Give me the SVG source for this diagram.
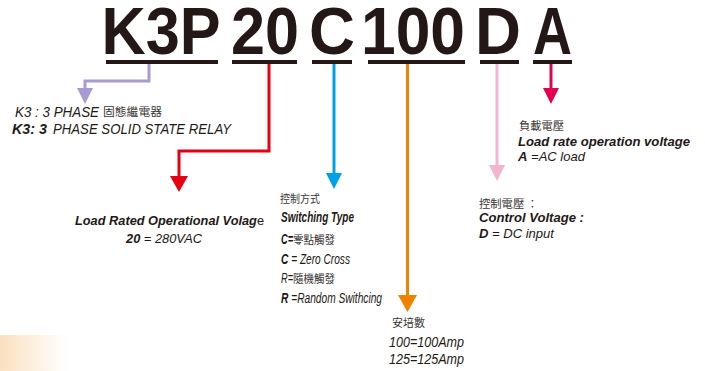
<svg xmlns="http://www.w3.org/2000/svg" width="705" height="371" viewBox="0 0 705 371">
<style>
.hd{font-family:"Liberation Sans",Arial,sans-serif;font-weight:bold;font-size:67px;fill:#231815}
.ul{fill:#231815}
.t{font-family:"Liberation Sans",Arial,sans-serif;font-size:13px;font-style:italic;fill:#231815}
.c{font-size:14.5px}
.b{font-weight:bold}
.cj{font-family:"Noto Sans CJK TC","Noto Sans CJK SC",sans-serif;font-size:11px;font-style:normal;font-weight:normal;fill:#3a3433}
.ln{fill:none;stroke-width:3}
</style>
<defs>
<linearGradient id="fade" x1="0" y1="0" x2="1" y2="0">
<stop offset="0" stop-color="#fbe0c0"/>
<stop offset="1" stop-color="#fbe0c0" stop-opacity="0"/>
</linearGradient>
<marker id="mPurple" markerUnits="userSpaceOnUse" markerWidth="20" markerHeight="20" viewBox="0 -10 20 20" refX="1" refY="0" orient="auto"><path d="M0,-8 L16,0 L0,8 z" fill="#a99bd1"/></marker>
<marker id="mRed" markerUnits="userSpaceOnUse" markerWidth="20" markerHeight="20" viewBox="0 -10 20 20" refX="1" refY="0" orient="auto"><path d="M0,-9 L16,0 L0,9 z" fill="#e60012"/></marker>
<marker id="mBlue" markerUnits="userSpaceOnUse" markerWidth="20" markerHeight="20" viewBox="0 -10 20 20" refX="1" refY="0" orient="auto"><path d="M0,-8 L16,0 L0,8 z" fill="#00a0e9"/></marker>
<marker id="mOrange" markerUnits="userSpaceOnUse" markerWidth="20" markerHeight="20" viewBox="0 -10 20 20" refX="1" refY="0" orient="auto"><path d="M0,-9.5 L17,0 L0,9.5 z" fill="#f08200"/></marker>
<marker id="mPink" markerUnits="userSpaceOnUse" markerWidth="20" markerHeight="20" viewBox="0 -10 20 20" refX="1" refY="0" orient="auto"><path d="M0,-8 L16,0 L0,8 z" fill="#f4b4d0"/></marker>
<marker id="mCrimson" markerUnits="userSpaceOnUse" markerWidth="20" markerHeight="20" viewBox="0 -10 20 20" refX="1" refY="0" orient="auto"><path d="M0,-8 L16,0 L0,8 z" fill="#e4004f"/></marker>
</defs>
<rect width="705" height="371" fill="#ffffff"/>
<rect x="0" y="335" width="68" height="36" fill="url(#fade)"/>

<g id="code">
<text class="hd" x="101.5" y="54" textLength="119" lengthAdjust="spacingAndGlyphs">K3P</text>
<text class="hd" x="231" y="54" textLength="68" lengthAdjust="spacingAndGlyphs">20</text>
<text class="hd" x="309" y="54" textLength="46" lengthAdjust="spacingAndGlyphs">C</text>
<text class="hd" x="361" y="54" textLength="104" lengthAdjust="spacingAndGlyphs">100</text>
<text class="hd" x="475" y="54" textLength="46" lengthAdjust="spacingAndGlyphs">D</text>
<text class="hd" x="533" y="54" textLength="39" lengthAdjust="spacingAndGlyphs">A</text>
<rect class="ul" x="106" y="60" width="112" height="4"/>
<rect class="ul" x="232" y="60" width="65" height="4"/>
<rect class="ul" x="312" y="60" width="40" height="4"/>
<rect class="ul" x="368" y="60" width="97" height="4"/>
<rect class="ul" x="480" y="60" width="39" height="4"/>
<rect class="ul" x="533" y="60" width="39" height="4"/>
</g>

<g id="connectors">
<path class="ln" d="M149,64 V81 H85 V89" stroke="#a99bd1" marker-end="url(#mPurple)"/>
<path class="ln" d="M269,64 V151 H179 V177" stroke="#e60012" marker-end="url(#mRed)"/>
<path class="ln" d="M334,64 V174" stroke="#00a0e9" stroke-width="2.2" marker-end="url(#mBlue)"/>
<path class="ln" d="M407.5,64 V296" stroke="#f08200" marker-end="url(#mOrange)"/>
<path class="ln" d="M497,64 V166" stroke="#f4b4d0" marker-end="url(#mPink)"/>
<path class="ln" d="M551,64 V89" stroke="#e4004f" stroke-width="2.2" marker-end="url(#mCrimson)"/>
</g>

<g id="node-k3p">
<text class="t c" x="15" y="117" textLength="84" lengthAdjust="spacingAndGlyphs">K3 : 3 PHASE</text>
<text class="cj" x="103" y="116" textLength="59" lengthAdjust="spacingAndGlyphs">固態繼電器</text>
<text class="t c b" x="12" y="134" textLength="35" lengthAdjust="spacingAndGlyphs">K3: 3</text>
<text class="t c" x="53" y="134" textLength="178" lengthAdjust="spacingAndGlyphs">PHASE SOLID STATE RELAY</text>
</g>

<g id="node-voltage">
<text class="t b" x="75" y="225" textLength="189" lengthAdjust="spacingAndGlyphs">Load Rated Operational Volag<tspan font-weight="normal" font-style="normal">e</tspan></text>
<text class="t" x="126" y="243" textLength="76" lengthAdjust="spacingAndGlyphs"><tspan class="b">20</tspan> = 280VAC</text>
</g>

<g id="node-switching">
<text class="cj" x="280" y="203" textLength="40" lengthAdjust="spacingAndGlyphs">控制方式</text>
<text class="t c b" x="281" y="222" textLength="73" lengthAdjust="spacingAndGlyphs">Switching Type</text>
<text class="t c" x="281" y="244"><tspan class="b" textLength="12" lengthAdjust="spacingAndGlyphs">C=</tspan><tspan class="cj" x="293" textLength="42" lengthAdjust="spacingAndGlyphs">零點觸發</tspan></text>
<text class="t c" x="281" y="264" textLength="69" lengthAdjust="spacingAndGlyphs"><tspan class="b">C</tspan> = Zero Cross</text>
<text class="t c" x="281" y="283"><tspan textLength="12" lengthAdjust="spacingAndGlyphs">R=</tspan><tspan class="cj" x="293" textLength="42" lengthAdjust="spacingAndGlyphs">隨機觸發</tspan></text>
<text class="t c" x="281" y="303" textLength="101" lengthAdjust="spacingAndGlyphs"><tspan class="b">R</tspan> =Random Swithcing</text>
</g>

<g id="node-current">
<text class="cj" x="392" y="327" textLength="33" lengthAdjust="spacingAndGlyphs">安培數</text>
<text class="t c" x="389" y="347" textLength="75" lengthAdjust="spacingAndGlyphs">100=100Amp</text>
<text class="t c" x="389" y="364" textLength="75" lengthAdjust="spacingAndGlyphs">125=125Amp</text>
</g>

<g id="node-control">
<text class="cj" x="479" y="208" textLength="59" lengthAdjust="spacingAndGlyphs">控制電壓 ：</text>
<text class="t b" x="479" y="222" textLength="105" lengthAdjust="spacingAndGlyphs">Control Voltage :</text>
<text class="t" x="479" y="238" textLength="75" lengthAdjust="spacingAndGlyphs"><tspan class="b">D</tspan> = DC input</text>
</g>

<g id="node-load">
<text class="cj" x="519" y="130" textLength="45" lengthAdjust="spacingAndGlyphs">負載電壓</text>
<text class="t b" x="518" y="146" textLength="172" lengthAdjust="spacingAndGlyphs">Load rate operation voltage</text>
<text class="t" x="518" y="161" textLength="67" lengthAdjust="spacingAndGlyphs"><tspan class="b">A</tspan> =AC load</text>
</g>
</svg>
